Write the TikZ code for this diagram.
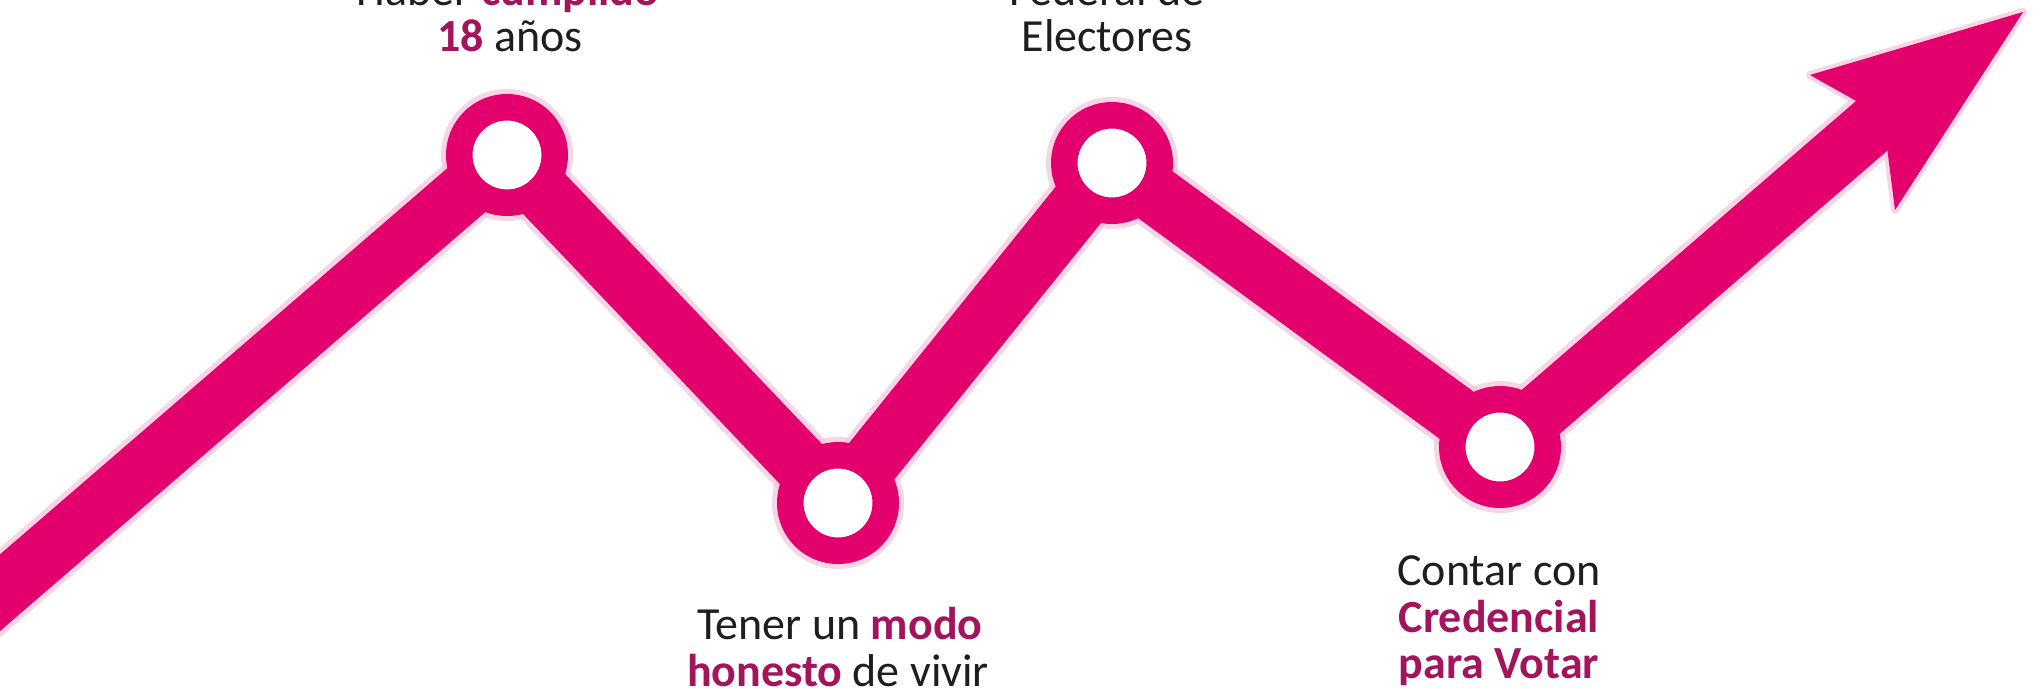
\documentclass[tikz,border=0pt]{standalone}
\usepackage{fontspec}
\setmainfont{Carlito}
\definecolor{ine}{RGB}{228,0,108}
\definecolor{inedark}{RGB}{163,20,92}
\definecolor{txt}{RGB}{30,30,30}
\definecolor{glowc}{RGB}{246,196,218}
\newcommand\hlt[1]{\textbf{\textcolor{inedark}{#1}}}
\begin{document}
\begin{tikzpicture}[x=1pt,y=-1pt,
  band/.style={line width=58pt, draw=ine, line join=round},
  bandglow/.style={line width=68pt, draw=glowc, line join=round, opacity=0.7},
  ring/.style={circle, draw=ine, fill=white, line width=26.5pt, minimum size=95.5pt, inner sep=0pt},
  ringglow/.style={fill=glowc, opacity=0.7},
  lbl/.style={font=\fontsize{46}{47}\selectfont, text=txt, anchor=base, inner sep=0pt}]
\useasboundingbox (0,0) rectangle (2044,693);
\clip (0,0) rectangle (2044,693);
\fill[white] (0,0) rectangle (2044,693);
% points
\coordinate (start) at (-100,679);
\coordinate (p1) at (507,155);
\coordinate (p3) at (838,503);
\coordinate (p2) at (1112,163);
\coordinate (p4) at (1500,447);
\coordinate (notch) at (1883,116);
\coordinate (tip) at (2023,12);
\coordinate (hb1) at (1810,75);
\coordinate (hb2) at (1895,210);
% glow
\draw[bandglow] (start) -- (p1) -- (p3) -- (p2) -- (p4) -- (notch);
\foreach \p in {p1,p2,p3,p4} \fill[ringglow] (\p) circle (66pt);
\draw[glowc, line width=8pt, line join=round, fill=glowc, opacity=0.7] (tip) -- (hb1) -- (notch) -- (hb2) -- cycle;
% band
\draw[band] (start) -- (p1) -- (p3) -- (p2) -- (p4) -- (notch);
\fill[ine] (tip) -- (hb1) -- (notch) -- (hb2) -- cycle;
% rings
\node[ring] (n1) at (p1) {};
\node[ring] (n2) at (p2) {};
\node[ring] (n3) at (p3) {};
\node[ring] (n4) at (p4) {};
% labels
\node[lbl] (t1a) at (508,6) {Haber \hlt{cumplido}};
\node[lbl] (t1b) at (510,52) {\hlt{18} años};
\node[lbl] (t2a) at (1107,6) {Federal de};
\node[lbl] (t2b) at (1107,52) {Electores};
\node[lbl] (t3a) at (840,639) {Tener un \hlt{modo}};
\node[lbl] (t3b) at (838,686) {\hlt{honesto} de vivir};
\node[lbl] (t4a) at (1499,585) {Contar con};
\node[lbl] (t4b) at (1499,632) {\hlt{Credencial}};
\node[lbl] (t4c) at (1499,678) {\hlt{para Votar}};
\end{tikzpicture}
\end{document}
